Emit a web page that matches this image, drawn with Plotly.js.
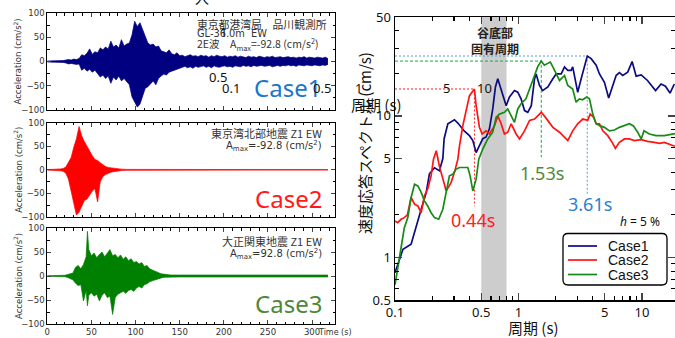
<!DOCTYPE html>
<html><head><meta charset="utf-8">
<script src="https://cdn.plot.ly/plotly-3.0.1.min.js"></script>
<style>html,body{margin:0;padding:0;background:#fff}#chart{width:675px;height:338px}</style>
</head><body><div id="chart"></div>
<script>
// ---------- waveform envelopes (acceleration, cm/s^2) ----------
// Case1: sampled every 3 s from 0 s
const case1Upper = [1,1,1,1.5,1,2,2,3,4,3,5,4,6,
  14,12,17,26,15,20,18,28,24,30,26,42,30,34,28,45,32,36,38,55,83,72,80,66,50,38,34,36,30,32,22,20,18,24,16,14,18,12,
  13,10,12,14,11,12,10,13,11,12,9,12,10,13,11,10,12,9,11,10,12,9,11,10,8,11,9,10,8,11,9,8,10,9,11,8,9,10,8,9,10,8,9,7,9,8,10,7,9,8,7,9,8,7,9,6];
const case1Lower = [-1,-1,-1,-1,-1.5,-2,-2,-3,-5,-4,-5,-6,-5,
  -18,-14,-20,-16,-22,-18,-25,-32,-28,-35,-30,-45,-32,-38,-30,-40,-35,-42,-48,-73,-85,-94,-88,-70,-55,-52,-45,-40,-48,-35,-30,-26,-28,-22,-20,-18,-15,-14,
  -12,-10,-13,-11,-14,-10,-12,-11,-9,-12,-10,-13,-9,-11,-12,-10,-9,-11,-10,-12,-9,-10,-11,-8,-10,-9,-11,-8,-10,-9,-8,-10,-9,-8,-11,-9,-8,-10,-8,-9,-7,-9,-8,-10,-7,-8,-9,-7,-8,-9,-7,-8,-9,-7,-8,-6];
const case1Step = 3;

const case2Time  = [0,6,12,15,18,21,24,27,30,33,36,39,42,45,48,51,54,57,60,63,66,69,72,75,78,81,84,90,120,160,200,250,318];
const case2Upper = [0.5,0.8,1.5,2,3,6,16,26,48,66,92,72,60,50,38,30,22,20,15,10,7,5,4,3,2.5,2,1.5,1,0.7,0.6,0.6,0.5,0.5];
const case2Lower = [-0.5,-0.8,-1.5,-2,-3,-7,-20,-45,-70,-96,-90,-78,-65,-62,-52,-45,-40,-68,-25,-14,-10,-7,-5,-4,-3,-2,-1.5,-1,-0.7,-0.6,-0.6,-0.5,-0.5];

const case3Time  = [0,10,20,23,26,29,32,35,38,41,44,45.5,47,50,53,56,59,62,65,68,71,74,77,80,83,86,89,92,95,98,101,104,107,110,113,116,119,122,125,128,131,134,140,150,170,200,250,318];
const case3Upper = [0.5,0.8,1.5,3,4,6,18,22,15,24,40,93,55,42,48,38,45,50,40,47,55,42,45,38,44,35,40,32,36,28,30,25,28,20,22,15,12,10,8,5,4,3,2,2,2,2,2,2];
const case3Lower = [-0.5,-0.8,-1.5,-3,-5,-8,-15,-20,-18,-52,-30,-62,-40,-35,-42,-38,-52,-40,-35,-45,-42,-80,-45,-38,-35,-32,-36,-30,-28,-32,-25,-22,-25,-18,-16,-12,-10,-8,-6,-4,-3,-2.5,-2,-2,-2,-2,-2,-2];

// ---------- velocity response spectra (h = 5 %) ----------
const case1T = [0.100,0.116,0.135,0.148,0.163,0.179,0.190,0.209,0.229,0.244,0.250,0.268,0.303,0.323,0.365,0.401,0.427,0.454,0.483,0.514,0.547,0.582,0.619,0.651,0.680,0.724,0.770,0.795,0.846,0.928,0.987,1.05,1.12,1.19,1.27,1.35,1.39,1.48,1.57,1.73,1.90,2.02,2.22,2.36,2.51,2.67,2.75,3.02,3.22,3.42,3.61,3.88,4.26,4.53,4.97,5.38,5.80,6.18,6.57,6.99,7.67,8.33,8.98,9.86,11.1,12.9,14.3,15.5,16.9,18.3];
const case1V = [0.78,1.14,1.24,1.67,2.19,2.87,3.9,4.3,4.1,5.0,6.9,8.8,9.4,8.9,7.8,7.25,6.7,5.5,6.15,6.9,7.1,8.1,11.2,16.0,18.3,15.5,12.8,11.8,13.6,15.1,14.7,13.2,10.9,10.6,11.8,18.3,19.8,16.4,15.1,16.0,18.3,19.8,19.8,22.2,21.0,21.0,22.2,14.7,18.3,22.8,26.5,25.4,22.8,19.8,17.3,13.4,16.4,19.3,20.2,19.3,20.4,24.2,19.1,19.5,17.8,15.1,16.8,16.2,14.5,16.8];
const case2T = [0.100,0.105,0.112,0.119,0.126,0.135,0.144,0.153,0.163,0.173,0.184,0.196,0.205,0.216,0.229,0.244,0.260,0.285,0.303,0.323,0.333,0.354,0.377,0.401,0.44,0.454,0.483,0.508,0.547,0.582,0.639,0.680,0.724,0.770,0.819,0.873,0.958,1.02,1.12,1.23,1.35,1.43,1.53,1.62,1.73,1.90,2.15,2.36,2.51,2.75,3.02,3.32,3.64,3.81,4.05,4.26,4.53,4.82,5.29,5.74,6.10,6.57,7.21,7.92,8.69,9.86,11.1,12.6,13.9,15.2,17.8,18.5];
const case2V = [1.81,1.76,1.86,1.91,2.0,2.65,2.38,2.31,2.07,2.72,3.04,3.77,4.95,5.67,4.4,3.6,2.95,3.39,3.99,4.95,6.15,8.5,11.2,13.9,15.5,11.8,8.3,7.45,7.84,7.45,8.5,10.0,8.8,7.45,7.67,8.8,7.45,6.87,7.84,9.3,9.5,10.0,10.6,10.0,9.3,8.3,7.67,7.07,6.7,7.84,8.8,9.5,9.3,10.3,9.8,8.8,8.8,7.84,7.25,6.5,5.9,6.5,6.87,6.87,6.7,6.8,6.6,6.5,6.4,6.5,6.15,6.1];
const case3T = [0.100,0.105,0.112,0.119,0.127,0.135,0.144,0.153,0.163,0.173,0.184,0.196,0.209,0.226,0.244,0.260,0.276,0.294,0.313,0.333,0.365,0.389,0.406,0.427,0.454,0.477,0.514,0.564,0.619,0.660,0.702,0.770,0.819,0.873,0.928,0.987,1.05,1.15,1.27,1.35,1.43,1.53,1.62,1.73,1.81,1.90,2.02,2.15,2.36,2.51,2.75,2.93,3.12,3.31,3.57,3.76,4.00,4.26,4.59,4.97,5.46,5.99,6.57,7.21,7.92,8.53,9.24,9.86,10.4,11.5,13.0,15.2,17.8,18.5];
const case3V = [0.64,0.82,1.20,1.62,1.91,2.65,3.29,3.2,2.88,2.51,2.31,2.07,1.91,1.86,2.19,2.88,3.77,3.87,4.21,4.32,4.32,4.32,3.77,2.95,3.57,4.95,5.83,6.87,7.67,9.8,10.3,10.6,11.2,10.0,9.0,11.2,12.2,13.2,16.4,19.3,22.2,24.4,22.8,23.4,24.0,22.2,19.8,17.8,19.3,16.4,15.5,12.5,13.2,13.0,13.6,13.2,10.3,8.8,8.5,8.3,7.84,7.95,8.3,8.5,8.8,8.5,7.67,6.87,7.84,7.45,7.25,7.25,7.45,7.5];

// peak markers: Case1, Case2, Case3
const peakPeriod = [3.61, 0.44, 1.53];
const peakVel    = [26.5, 15.5, 24.4];
const peakDropTo = [2.8, 2.3, 5.1];
const peakLabels = ['3.61s', '0.44s', '1.53s'];
const bandPeriod = [0.5, 0.8];          // 谷底部固有周期
const periodMin = 0.1, velMin = 0.5, velMax = 50;

const caseNames = ['Case1','Case2','Case3'];
const xTickVals = [0.1,0.5,1,5,10], xTickText = ['0.1','0.5','1','5','10'];
const yTickVals = [0.5,1,5,10,50],  yTickText = ['0.5','1','5','10','50'];

// ---------- styling ----------
const NAVY='#0c0c82', RED='#ff1414', GREEN='#178a17';
const W=675, H=338;
const PX = x => x / W, PY = y => 1 - y / H;
const JP = '"Noto Sans CJK JP", sans-serif';
const SANS = '"Noto Sans", "Open Sans", sans-serif';
const VERD = '"DejaVu Sans", sans-serif';
const ARIAL = '"Liberation Sans", Arial, sans-serif';

const traces = [];
function envelope(x, up, lo, color, xa, ya, step) {
  const base = {mode:'lines', line:{color, width:0.7}, showlegend:false, hoverinfo:'skip', xaxis:xa, yaxis:ya};
  const a = Object.assign({}, base, {y:lo}); const b = Object.assign({}, base, {y:up, fill:'tonexty', fillcolor:color});
  if (step) { a.x0 = 0; a.dx = step; b.x0 = 0; b.dx = step; } else { a.x = x; b.x = x; }
  traces.push(a, b);
}
envelope(null, case1Upper, case1Lower, '#000080', 'x', 'y', case1Step);
envelope(case2Time, case2Upper, case2Lower, '#ff0000', 'x2', 'y2');
envelope(case3Time, case3Upper, case3Lower, '#008000', 'x3', 'y3');

// gray band
traces.push({x:[bandPeriod[0],bandPeriod[1],bandPeriod[1],bandPeriod[0]], y:[velMin,velMin,velMax,velMax],
  fill:'toself', fillcolor:'#cdcdcd', line:{width:0}, mode:'lines', showlegend:false, hoverinfo:'skip', xaxis:'x4', yaxis:'y4'});
// dotted peak guides
const guideColors = ['#5b9bd5','#ff2020','#10b040'];
const guideDash = ['2px,2px','2px,2px','3px,2px'];
for (let i=0;i<3;i++) {
  traces.push({x:[periodMin, peakPeriod[i], peakPeriod[i]], y:[peakVel[i], peakVel[i], peakDropTo[i]], mode:'lines',
    line:{color:guideColors[i], width:1, dash:guideDash[i]}, showlegend:false, hoverinfo:'skip', xaxis:'x4', yaxis:'y4'});
}
const specT = [case1T, case2T, case3T], specV = [case1V, case2V, case3V], specC = [NAVY, RED, GREEN];
for (let i=0;i<3;i++) {
  traces.push({x:specT[i], y:specV[i], name:caseNames[i], mode:'lines', line:{color:specC[i], width:1.7},
    xaxis:'x4', yaxis:'y4', hoverinfo:'skip', showlegend:false});
}

// ---------- axes ----------
const leftX = [47.3, 335];
const panels = [[13,110],[122.7,217],[228,324]];
function waveX(anchor, labels) {
  return {domain:[PX(leftX[0]), PX(leftX[1])], anchor, range:[0,326], dtick:50, ticks:'inside', ticklen:4, tickwidth:1,
    mirror:'ticks', showline:true, linecolor:'#000', linewidth:1, showgrid:false, zeroline:false,
    showticklabels:labels, tickfont:{family:VERD, size:8.5, color:'#333'},
    minor:{dtick:10, ticks:'inside', ticklen:2.5, tickcolor:'#000'}};
}
function waveY(anchor, p) {
  return {domain:[PY(p[1]), PY(p[0])], anchor, range:[-100,100], tickvals:[-100,-50,0,50,100], ticks:'inside', ticklen:4,
    mirror:'ticks', showline:true, linecolor:'#000', linewidth:1, showgrid:false, zeroline:false,
    tickfont:{family:VERD, size:8.5, color:'#333'}, minor:{dtick:25, ticks:'inside', ticklen:2.5, tickcolor:'#000'}};
}
const layout = {
  width:W, height:H, margin:{l:0,r:0,t:0,b:0}, paper_bgcolor:'#fff', plot_bgcolor:'#fff', showlegend:false,
  xaxis: waveX('y', false), yaxis: waveY('x', panels[0]),
  xaxis2: waveX('y2', false), yaxis2: waveY('x2', panels[1]),
  xaxis3: waveX('y3', true), yaxis3: waveY('x3', panels[2]),
  xaxis4: {domain:[PX(395), 1], anchor:'y4', type:'log', range:[-1, 1.268], tickvals:xTickVals, ticktext:xTickText,
    ticks:'inside', ticklen:7, tickwidth:1.2, mirror:'ticks', showline:true, linecolor:'#000', linewidth:1.5,
    showgrid:false, zeroline:false, tickfont:{family:SANS, size:13, color:'#111'},
    minor:{tickvals:[0.2,0.3,0.4,0.6,0.7,0.8,0.9,2,3,4,6,7,8,9,20], ticks:'inside', ticklen:4, tickcolor:'#000'}},
  yaxis4: {domain:[PY(300), PY(17)], anchor:'x4', type:'log', range:[Math.log10(velMin), Math.log10(velMax)],
    tickvals:yTickVals, ticktext:yTickText, ticks:'inside', ticklen:7, tickwidth:1.2, mirror:'ticks', showline:true,
    linecolor:'#000', linewidth:1.5, showgrid:false, zeroline:false, tickfont:{family:SANS, size:13, color:'#111'},
    minor:{tickvals:[0.6,0.7,0.8,0.9,2,3,4,6,7,8,9,20,30,40], ticks:'inside', ticklen:4, tickcolor:'#000'}},
  annotations:[], shapes:[]
};

function ann(text, x, y, o) {
  o = o || {};
  layout.annotations.push({text, x:PX(x), y:PY(y), xref:'paper', yref:'paper', showarrow:false,
    xanchor:o.xa||'center', yanchor:'middle', textangle:o.angle||0,
    font:{family:o.family||SANS, size:o.size||12, color:o.color||'#222'}});
}
// left panel titles
for (const p of panels) ann('Acceleration (cm/s<sup>2</sup>)', 18, (p[0]+p[1])/2, {angle:-90, family:VERD, size:8.5, color:'#333'});
ann('Time (s)', 335, 332, {family:VERD, size:8, color:'#333'});
// panel notes
ann('東京都港湾局　品川観測所', 195, 24, {xa:'left', family:JP, size:10.8, color:'#333'});
ann('GL-36.0m  EW', 195, 33.5, {xa:'left', family:VERD, size:9.8, color:'#333'});
ann('2E波　A<sub>max</sub>=-92.8 (cm/s<sup>2</sup>)', 195, 44, {xa:'left', family:JP, size:10.5, color:'#333'});
ann('東京湾北部地震 Z1 EW', 324, 133, {xa:'right', family:JP, size:11, color:'#333'});
ann('A<sub>max</sub>=-92.8 (cm/s<sup>2</sup>)', 324, 146, {xa:'right', family:VERD, size:10, color:'#333'});
ann('大正関東地震 Z1 EW', 324, 241, {xa:'right', family:JP, size:11, color:'#333'});
ann('A<sub>max</sub>=92.8 (cm/s<sup>2</sup>)', 324, 254, {xa:'right', family:VERD, size:10, color:'#333'});
// big case labels
ann('Case1', 287, 87, {family:SANS, size:24, color:'#1a78c8'});
ann('Case2', 288, 198, {family:SANS, size:24, color:'#ff1a1a'});
ann('Case3', 288, 303, {family:SANS, size:24, color:'#50883a'});
// stray overlapping labels
ann('1', 223, 32, {family:SANS, size:13, color:'#111'});
ann('0.5', 218, 77, {family:SANS, size:13, color:'#111'});
ann('0.1', 231, 88, {family:SANS, size:13, color:'#111'});
ann('0.5', 322, 88, {family:SANS, size:13, color:'#111'});
ann('入', 202, -3, {family:JP, size:14, color:'#111'});
ann('1', 358, 88, {family:SANS, size:13, color:'#111'});
ann('5', 446, 88, {family:SANS, size:13, color:'#111'});
ann('10', 484, 88, {family:SANS, size:13, color:'#111'});
ann('周期 (s)', 376, 105, {family:JP, size:15, color:'#111'});
// right panel titles
ann('速度応答スペクトル (cm/s)', 364, 143, {angle:-90, family:JP, size:15, color:'#111'});
ann('周期 (s)', 533, 327, {family:JP, size:15, color:'#111'});
ann('<b>谷底部</b>', 495, 33, {family:JP, size:12, color:'#222'});
ann('<b>固有周期</b>', 495, 49, {family:JP, size:12, color:'#222'});
ann('<i>h</i> = 5 %', 640, 221, {family:SANS, size:12, color:'#111'});
// peak labels
const labelPos = [[590,204,'#2a80d0'],[473,220,'#ff2020'],[542,173,'#50883a']];
for (let i=0;i<3;i++) ann(peakLabels[i], labelPos[i][0], labelPos[i][1], {family:SANS, size:18, color:labelPos[i][2]});

// hand-placed legend box (rounded) with line samples
(function legend() {
  const x0=PX(563), x1=PX(667), y0=PY(285), y1=PY(233.5), rx=5/W, ry=5/H;
  layout.shapes.push({type:'path', xref:'paper', yref:'paper', fillcolor:'#fff', line:{color:'#000', width:1.3}, layer:'above',
    path:`M ${x0+rx},${y0} L ${x1-rx},${y0} Q ${x1},${y0} ${x1},${y0+ry} L ${x1},${y1-ry} Q ${x1},${y1} ${x1-rx},${y1} `+
         `L ${x0+rx},${y1} Q ${x0},${y1} ${x0},${y1-ry} L ${x0},${y0+ry} Q ${x0},${y0} ${x0+rx},${y0} Z`});
  const rows = [246, 260, 274.5];
  for (let i=0;i<3;i++) {
    layout.shapes.push({type:'line', xref:'paper', yref:'paper', x0:PX(568), x1:PX(597), y0:PY(rows[i]), y1:PY(rows[i]),
      line:{color:specC[i], width:1.7}, layer:'above'});
    ann(caseNames[i], 606, rows[i], {xa:'left', family:ARIAL, size:14, color:'#111'});
  }
})();

Plotly.newPlot('chart', traces, layout, {staticPlot:true, displayModeBar:false});
</script></body></html>
